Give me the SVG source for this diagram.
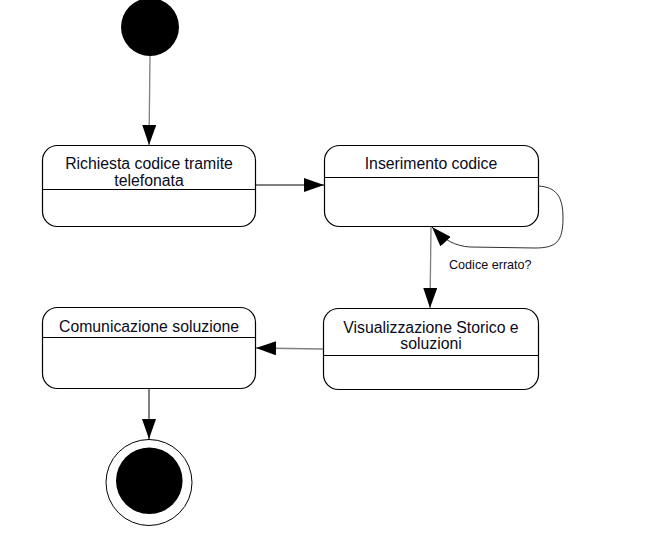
<svg xmlns="http://www.w3.org/2000/svg" width="650" height="535" viewBox="0 0 650 535">
<style>
.box{fill:#ffffff;stroke:#000000;stroke-width:1.2}
.div{stroke:#000000;stroke-width:1.2}
.t{font-family:"Liberation Sans",Arial,sans-serif;font-size:15.8px;fill:#0a0a22;text-anchor:middle}
.lbl{font-family:"Liberation Sans",Arial,sans-serif;font-size:12.6px;fill:#0a0a22}
.c{fill:none;stroke:#000000;stroke-width:1}
.cg{fill:none;stroke:#808080;stroke-width:1.3}
.cd{fill:none;stroke:#303030;stroke-width:1}
</style>
<defs>
<marker id="ah" markerWidth="20" markerHeight="14" refX="20" refY="7" orient="auto" markerUnits="userSpaceOnUse">
<path d="M0,0 L20,7 L0,14 Z" fill="#000000"/>
</marker>
</defs>
<rect width="650" height="535" fill="#ffffff"/>
<g id="start">
<circle cx="150" cy="27" r="29" fill="#000000"/>
</g>
<g id="n1">
<rect class="box" x="42.5" y="145.5" width="213" height="81" rx="15" ry="15"/>
<line class="div" x1="42.5" y1="189.5" x2="255.5" y2="189.5"/>
<text class="t" x="149" y="169">Richiesta codice tramite</text>
<text class="t" x="149" y="186">telefonata</text>
</g>
<g id="n2">
<rect class="box" x="324.5" y="145.5" width="214" height="81" rx="15" ry="15"/>
<line class="div" x1="324.5" y1="177.5" x2="538.5" y2="177.5"/>
<text class="t" x="431" y="169">Inserimento codice</text>
</g>
<g id="n3">
<rect class="box" x="42.5" y="307.5" width="213" height="81" rx="15" ry="15"/>
<line class="div" x1="42.5" y1="337.5" x2="255.5" y2="337.5"/>
<text class="t" x="149" y="332">Comunicazione soluzione</text>
</g>
<g id="n4">
<rect class="box" x="323.5" y="308.5" width="215" height="81" rx="15" ry="15"/>
<line class="div" x1="323.5" y1="355.5" x2="538.5" y2="355.5"/>
<text class="t" x="431" y="333">Visualizzazione Storico e</text>
<text class="t" x="431" y="349">soluzioni</text>
</g>
<g id="end">
<circle cx="149" cy="482.5" r="43" fill="#ffffff" stroke="#000000" stroke-width="1"/>
<circle cx="149.3" cy="480.7" r="33.3" fill="#000000"/>
</g>
<g id="connectors">
<path class="cg" d="M150,56 L149,145" marker-end="url(#ah)"/>
<path class="c" d="M256,185 L324,185" marker-end="url(#ah)"/>
<path class="cd" d="M538,186 C556,187 563,196 563,218 C563,242 556,248 535,248 L470,247 C455,246 444,240 432,227" marker-end="url(#ah)"/>
<text class="lbl" x="449" y="269">Codice errato?</text>
<path class="cg" d="M431,227 L430,308" marker-end="url(#ah)"/>
<path class="cg" d="M323,349 L256,348" marker-end="url(#ah)"/>
<path class="c" d="M149,389 L149,439" marker-end="url(#ah)"/>
</g>
</svg>
